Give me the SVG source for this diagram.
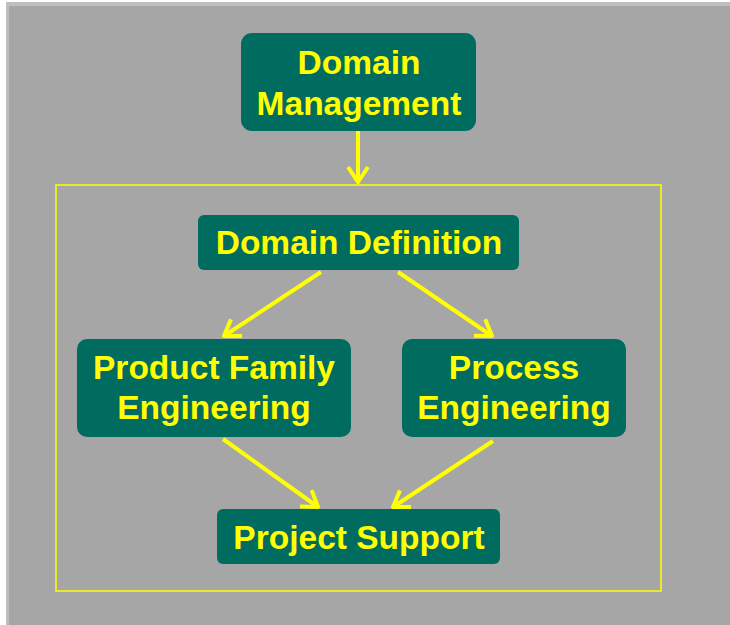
<svg xmlns="http://www.w3.org/2000/svg" width="730" height="625" viewBox="0 0 730 625">
  <style>
    .node { fill: #006B5F; }
    .label { fill: #FFFF00; font-family: "Liberation Sans", Arial, sans-serif; font-weight: bold; font-size: 33.5px; text-anchor: middle; }
    .conn { stroke: #FFFF00; stroke-width: 4; fill: none; }
  </style>
  <defs>
    <marker id="arrow" markerUnits="userSpaceOnUse" viewBox="-18 -12 20 24" refX="0" refY="0" markerWidth="20" markerHeight="24" orient="auto">
      <path d="M-15,-10 L0,0 L-15,10" fill="none" stroke="#FFFF00" stroke-width="4"/>
    </marker>
  </defs>
  <rect x="0" y="0" width="730" height="625" fill="#FFFFFF"/>
  <rect x="6" y="2" width="724" height="623" fill="#BFBFBF"/>
  <rect x="9" y="6" width="721" height="619" fill="#A6A6A6"/>
  <rect id="frame" x="56" y="185" width="605" height="406" fill="none" stroke="#FFFF00" stroke-width="1.5"/>

  <g id="connectors">
    <line class="conn" x1="358" y1="131" x2="358" y2="182" marker-end="url(#arrow)"/>
    <line class="conn" x1="321" y1="272" x2="224" y2="336" marker-end="url(#arrow)"/>
    <line class="conn" x1="398" y1="272" x2="492" y2="336" marker-end="url(#arrow)"/>
    <line class="conn" x1="223" y1="439" x2="318" y2="507" marker-end="url(#arrow)"/>
    <line class="conn" x1="493" y1="441" x2="393" y2="507" marker-end="url(#arrow)"/>
  </g>

  <g id="domain-management">
    <rect class="node" x="241" y="33" width="235" height="98" rx="11"/>
    <text class="label" x="359" y="74">Domain</text>
    <text class="label" x="359" y="115">Management</text>
  </g>
  <g id="domain-definition">
    <rect class="node" x="198" y="215" width="321" height="55" rx="6"/>
    <text class="label" x="359" y="254">Domain Definition</text>
  </g>
  <g id="product-family-engineering">
    <rect class="node" x="77" y="339" width="274" height="98" rx="10"/>
    <text class="label" x="214" y="379">Product Family</text>
    <text class="label" x="214" y="419">Engineering</text>
  </g>
  <g id="process-engineering">
    <rect class="node" x="402" y="339" width="224" height="98" rx="10"/>
    <text class="label" x="514" y="379">Process</text>
    <text class="label" x="514" y="419">Engineering</text>
  </g>
  <g id="project-support">
    <rect class="node" x="217" y="509" width="283" height="55" rx="6"/>
    <text class="label" x="359" y="549">Project Support</text>
  </g>
</svg>
